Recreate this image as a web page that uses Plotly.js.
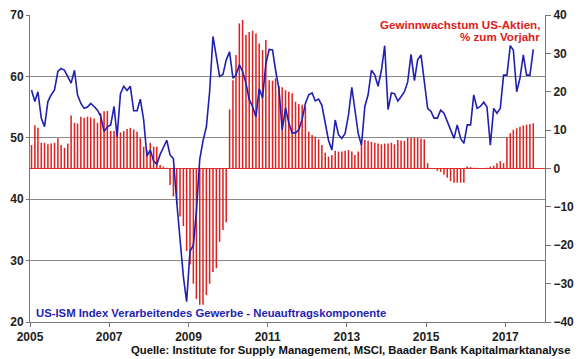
<!DOCTYPE html>
<html>
<head>
<meta charset="utf-8">
<script src="https://cdn.plot.ly/plotly-3.0.1.min.js"></script>
<style>
  html, body { margin: 0; padding: 0; background: #ffffff; }
  #chart { width: 580px; height: 359px; }
</style>
</head>
<body>
<div id="chart"></div>
<script>
// Monthly observations, Jan 2005 .. Sep 2017
const startYear = 2005;
const startMonth = 1;

// US-ISM Index Verarbeitendes Gewerbe - Neuauftragskomponente (left axis)
const ismNewOrders = [
  57.8, 55.9, 57.5, 53.2, 51.8, 55.9, 57.0, 57.8, 60.8, 61.3, 61.0, 60.0,
  58.9, 61.0, 57.0, 55.6, 54.8, 55.0, 55.6, 55.1, 54.5, 53.5, 51.0, 51.8,
  52.1, 55.1, 50.2, 57.2, 58.4, 57.7, 58.4, 54.4, 54.4, 56.3, 52.9, 47.0,
  48.0, 46.2, 45.7, 47.3, 48.5, 49.6, 47.2, 46.6, 39.5, 33.4, 27.4, 23.3,
  31.5, 32.5, 38.0, 46.5, 49.5, 51.8, 57.5, 66.5, 63.5, 60.0, 60.3, 62.7,
  64.0, 59.7, 60.2, 61.9, 60.8, 58.9, 56.2, 55.1, 53.4, 58.0, 56.5, 62.0,
  64.4, 64.3, 61.0, 58.0, 51.3, 54.9, 52.4, 50.8, 50.8, 51.3, 53.0, 55.6,
  57.0, 57.3, 56.0, 56.3, 55.3, 52.4, 49.6, 48.0, 52.9, 50.5, 49.9, 50.7,
  53.7, 58.2, 54.5, 50.7, 48.8, 55.1, 57.0, 61.0, 60.2, 58.4, 61.0, 65.0,
  54.6, 57.3, 57.2, 56.0, 56.7, 57.5, 59.1, 63.6, 59.3, 62.7, 63.5, 59.1,
  54.8, 54.3, 53.2, 53.2, 54.5, 54.0, 52.6, 51.2, 49.9, 52.1, 49.9, 49.1,
  52.1, 52.1, 57.0, 54.8, 55.1, 55.8, 55.0, 48.8, 54.8, 54.0, 54.8, 60.2,
  60.2, 65.0, 64.3, 57.5, 59.7, 63.5, 60.2, 60.2, 64.4
];

// Gewinnwachstum US-Aktien, % zum Vorjahr (right axis)
const earningsGrowth = [
  6.1, 11.3, 10.6, 6.7, 6.7, 6.3, 6.5, 6.7, 7.9, 6.1, 5.4, 6.5,
  13.8, 11.9, 11.7, 13.5, 13.2, 13.5, 13.3, 13.0, 11.9, 14.4, 14.9, 15.0,
  9.8, 9.8, 9.6, 9.4, 9.8, 10.3, 10.6, 10.2, 9.6, 7.9, 5.7, 4.8,
  6.7, 5.7, 5.7, 0.9, 0.5, 0.2, -4.3, -7.3, -9.3, -12.5, -15.0, -21.5,
  -25.0, -30.0, -34.0, -35.5, -35.5, -33.0, -30.0, -27.0, -26.0, -19.1, -16.0, -14.0,
  15.4, 23.0, 29.6, 37.8, 38.7, 34.8, 35.6, 35.9, 35.2, 32.6, 30.9, 33.5,
  23.0, 22.9, 23.5, 21.5, 21.2, 20.4, 20.0, 19.6, 17.4, 16.8, 16.6, 16.1,
  9.6, 8.7, 8.3, 7.6, 6.1, 4.1, 3.1, 3.5, 4.6, 4.4, 4.4, 4.6,
  4.8, 4.4, 3.5, 4.4, 6.1, 7.4, 7.2, 6.9, 6.7, 6.5, 6.3, 6.5,
  6.5, 6.7, 6.3, 7.4, 7.3, 7.2, 8.0, 8.0, 8.0, 8.0, 7.8, 7.6,
  1.4, 0.1, 0.1, -0.6, -0.9, -1.6, -2.4, -3.3, -3.7, -3.7, -3.7, -3.7,
  0.5, 0.4, 0.2, 0.2, 0.1, 0.1, 0.2, 0.5, 0.7, 1.4, 1.9, 1.4,
  8.1, 9.2, 10.1, 10.5, 10.9, 11.2, 11.4, 11.6, 11.8
];

const xTickYears = ['2005', '2007', '2009', '2011', '2013', '2015', '2017'];
const leftTicks = [20, 30, 40, 50, 60, 70];
const rightTicks = [-40, -30, -20, -10, 0, 10, 20, 30, 40];

const labelEarnings1 = 'Gewinnwachstum US-Aktien,';
const labelEarnings2 = '% zum Vorjahr';
const labelIsm = 'US-ISM Index Verarbeitendes Gewerbe - Neuauftragskomponente';
const labelSource = 'Quelle: Institute for Supply Management, MSCI, Baader Bank Kapitalmarktanalyse';

// month dates (mid-month) for each observation
function monthDate(k) {
  const total = (startMonth - 1) + k;
  const y = startYear + Math.floor(total / 12);
  const m = (total % 12) + 1;
  return y + '-' + String(m).padStart(2, '0') + '-15';
}
const months = ismNewOrders.map((_, k) => monthDate(k));

const FONT = 'Arial, "Liberation Sans", sans-serif';

const traces = [
  {
    type: 'bar',
    x: months,
    y: earningsGrowth,
    yaxis: 'y',
    marker: { color: '#dd2020', line: { width: 0 } },
    hoverinfo: 'skip',
    showlegend: false
  },
  {
    type: 'scatter',
    mode: 'lines',
    x: months,
    y: ismNewOrders,
    yaxis: 'y2',
    line: { color: '#1f1fb0', width: 1.6 },
    hoverinfo: 'skip',
    showlegend: false
  }
];

const tickFont = { family: FONT, size: 12, color: '#222222', weight: 'bold' };
const redFont = { family: FONT, size: 11.6, color: '#e02020', weight: 'bold' };

const layout = {
  width: 580,
  height: 359,
  margin: { l: 30, r: 35, t: 15, b: 37 },
  paper_bgcolor: '#ffffff',
  plot_bgcolor: '#ffffff',
  bargap: 0.5,
  showlegend: false,
  xaxis: {
    type: 'date',
    range: ['2005-01-01', '2018-01-01'],
    tickvals: xTickYears.map(y => y + '-01-01'),
    ticktext: xTickYears,
    ticks: 'outside',
    ticklen: 4,
    tickcolor: '#777777',
    showline: true,
    linecolor: '#777777',
    linewidth: 1,
    showgrid: false,
    zeroline: false,
    tickfont: tickFont
  },
  yaxis: {
    side: 'right',
    range: [-40, 40],
    tickvals: rightTicks,
    ticks: 'outside',
    ticklen: 5,
    tickcolor: '#777777',
    showline: true,
    linecolor: '#777777',
    showgrid: false,
    zeroline: false,
    tickfont: tickFont
  },
  yaxis2: {
    overlaying: 'y',
    side: 'left',
    range: [20, 70],
    tickvals: leftTicks,
    ticks: 'outside',
    ticklen: 3,
    tickcolor: '#777777',
    showline: true,
    linecolor: '#777777',
    showgrid: true,
    gridcolor: '#8a8a8a',
    gridwidth: 1,
    zeroline: false,
    tickfont: tickFont
  },
  shapes: [
    {
      type: 'line', xref: 'paper', yref: 'y',
      x0: 0, x1: 1, y0: 0, y1: 0,
      line: { color: '#e03030', width: 1 },
      layer: 'below'
    }
  ],
  annotations: [
    {
      text: labelEarnings1,
      xref: 'paper', yref: 'paper',
      x: 0.994, y: 0.97,
      xanchor: 'right', yanchor: 'middle',
      showarrow: false,
      font: redFont
    },
    {
      text: labelEarnings2,
      xref: 'paper', yref: 'paper',
      x: 0.994, y: 0.93,
      xanchor: 'right', yanchor: 'middle',
      showarrow: false,
      font: redFont
    },
    {
      text: labelIsm,
      xref: 'paper', yref: 'paper',
      x: 0.008, y: 0.03,
      xanchor: 'left', yanchor: 'middle',
      showarrow: false,
      font: { family: FONT, size: 11.3, color: '#1f1fb0', weight: 'bold' }
    },
    {
      text: labelSource,
      xref: 'paper', yref: 'paper',
      x: 1.053, y: -0.09,
      xanchor: 'right', yanchor: 'middle',
      showarrow: false,
      font: { family: FONT, size: 11.3, color: '#111111', weight: 'bold' }
    }
  ]
};

Plotly.newPlot('chart', traces, layout, { displayModeBar: false, staticPlot: true });
</script>
</body>
</html>
